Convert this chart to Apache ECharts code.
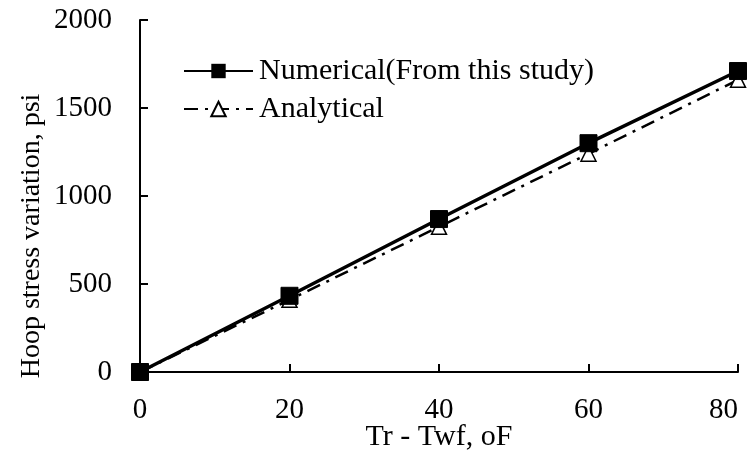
<!DOCTYPE html>
<html><head><meta charset="utf-8">
<script src="https://cdn.jsdelivr.net/npm/echarts@6/dist/echarts.min.js"></script>
<style>html,body{margin:0;padding:0;background:#fff}#c{width:749px;height:455px}</style>
</head><body><div id="c"></div>
<script>
const xValues = [0, 20, 40, 60, 80];
const numerical = [0, 433, 869, 1300, 1710];
const analytical = [0, 410, 825, 1240, 1660];
const seriesNames = ['Numerical(From this study)', 'Analytical'];
const font = 'Liberation Serif';
const chart = echarts.init(document.getElementById('c'), null, {renderer: 'canvas'});
chart.setOption({
  animation: false,
  backgroundColor: '#fff',
  grid: {left: 140, right: 11, top: 20, bottom: 83, containLabel: false, outerBoundsMode: 'none'},
  legend: {
    left: 183, top: 56, orient: 'vertical', padding: 0, itemGap: 8, itemWidth: 69, itemHeight: 18,
    textStyle: {fontFamily: font, fontSize: 30, color: '#000', padding: [0, 0, 0, 1]},
    data: seriesNames
  },
  xAxis: {
    type: 'value', min: 0, max: 80, interval: 20,
    name: 'Tr - Twf, oF', nameLocation: 'middle', nameGap: 50, nameMoveOverlap: false,
    nameTextStyle: {fontFamily: font, fontSize: 30, color: '#000'},
    axisLine: {onZero: false, lineStyle: {color: '#000', width: 2}},
    axisTick: {inside: true, length: 8, lineStyle: {color: '#000', width: 2}},
    axisLabel: {fontFamily: font, fontSize: 29, color: '#000', margin: 24, alignMaxLabel: 'right'},
    splitLine: {show: false}
  },
  yAxis: {
    type: 'value', min: 0, max: 2000, interval: 500,
    name: 'Hoop stress variation, psi', nameLocation: 'middle', nameGap: 94, nameMoveOverlap: false,
    nameTextStyle: {fontFamily: font, fontSize: 28, color: '#000', padding: [0, 80, 0, 0]},
    axisLine: {show: true, lineStyle: {color: '#000', width: 2}},
    axisTick: {show: true, inside: true, length: 8, lineStyle: {color: '#000', width: 2}},
    axisLabel: {fontFamily: font, fontSize: 29, color: '#000', margin: 28, formatter: v => String(v)},
    splitLine: {show: false}
  },
  series: [
    {
      name: seriesNames[0], type: 'line', data: xValues.map((x, i) => [x, numerical[i]]),
      symbol: 'rect', symbolSize: 17, z: 3,
      lineStyle: {color: '#000', width: 3.5},
      itemStyle: {color: '#000', borderColor: '#000'}
    },
    {
      name: seriesNames[1], type: 'line', data: xValues.map((x, i) => [x, analytical[i]]),
      symbol: 'triangle', symbolSize: 15, z: 2,
      lineStyle: {color: '#000', width: 2.5, type: [14, 7, 3, 7]},
      itemStyle: {color: '#fff', borderColor: '#000', borderWidth: 1.5}
    }
  ]
});
</script></body></html>
